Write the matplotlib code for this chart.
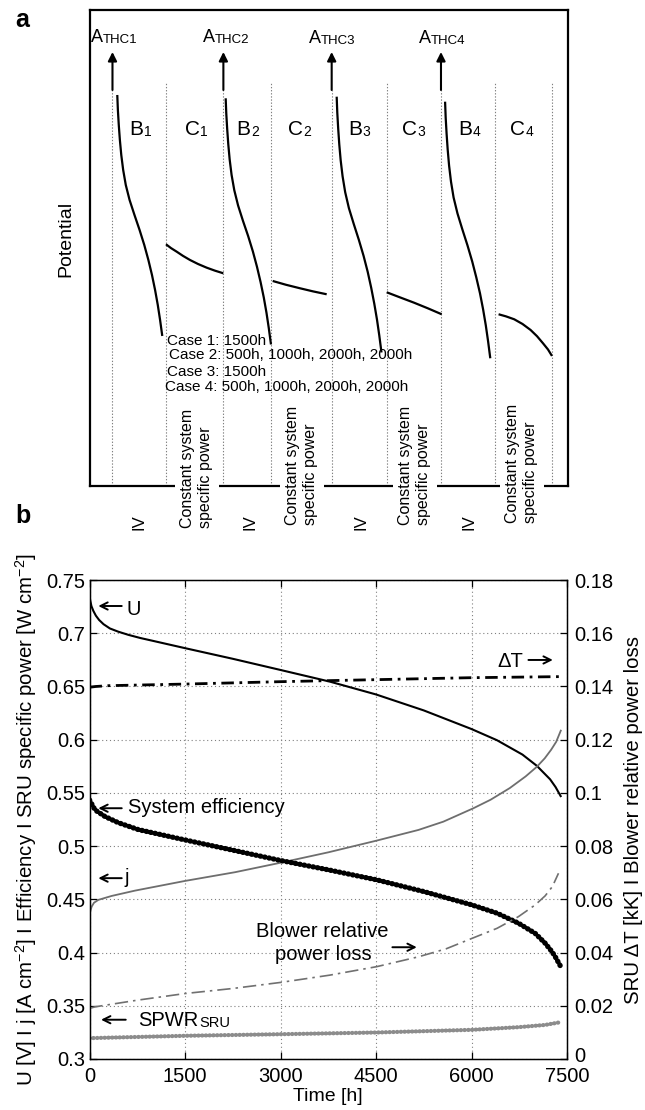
import matplotlib
matplotlib.use('Agg')
import matplotlib.pyplot as plt
from matplotlib.transforms import ScaledTranslation

plt.rcParams['font.family'] = ['Liberation Sans', 'DejaVu Sans']
plt.rcParams['mathtext.fontset'] = 'custom'
plt.rcParams['mathtext.rm'] = 'Liberation Sans'
plt.rcParams['mathtext.it'] = 'Liberation Sans:italic'
plt.rcParams['mathtext.bf'] = 'Liberation Sans:bold'

# ======================= Panel a (schematic, arbitrary units) =======================
seg_bounds = [22.5, 76, 133.4, 180.7, 241.7, 296.7, 351, 405.3, 462]
arrow_x = [22.5, 133.4, 241.7, 351]

B1_x = [27.3, 27.9, 28.8, 29.9, 31.3, 33.2, 35.8, 39.6, 44.5, 49.6, 54.3, 58.4, 62.0, 65.1, 67.8, 70.1, 72.3]
B1_y = [391, 376, 361, 346, 331, 316, 301, 286, 271, 256, 241, 226, 211, 196, 181, 166, 150]
B2_x = [135.7, 136.3, 137.2, 138.3, 139.7, 141.6, 144.3, 148.1, 153.0, 158.2, 162.9, 167.0, 170.6, 173.8,
        176.5, 178.8, 181.0]
B2_y = [387.7, 372.4, 357.1, 341.7, 326.4, 311.1, 295.8, 280.5, 265.1, 249.8, 234.5, 219.2, 203.9, 188.5,
        173.2, 157.9, 141.5]
B3_x = [246.7, 247.3, 248.2, 249.3, 250.7, 252.6, 255.2, 258.9, 263.8, 268.9, 273.6, 277.7, 281.2, 284.3,
        287.0, 289.3, 291.5]
B3_y = [389.3, 373.4, 357.5, 341.5, 325.6, 309.7, 293.8, 277.9, 261.9, 246.0, 230.1, 214.2, 198.3, 182.3,
        166.4, 150.5, 133.5]
B4_x = [355.1, 355.7, 356.6, 357.7, 359.1, 361.0, 363.6, 367.5, 372.4, 377.5, 382.2, 386.3, 390.0, 393.1,
        395.8, 398.1, 400.3]
B4_y = [384.3, 368.3, 352.4, 336.4, 320.4, 304.4, 288.5, 272.5, 256.5, 240.6, 224.6, 208.6, 192.7, 176.7,
        160.7, 144.7, 127.7]

C1_x = [76, 81, 86.7, 93, 100, 108, 116.7, 125, 133.3]
C1_y = [241.7, 237.9, 234.3, 230.1, 226, 222, 218.3, 215.3, 212.7]
C2_x = [182.7, 196, 210, 223, 236.7]
C2_y = [205, 201.2, 197.7, 194.6, 191.7]
C3_x = [296.7, 310, 324, 338, 351.7]
C3_y = [193.7, 188.6, 183.3, 177.6, 171.7]
C4_x = [408.6, 416, 424.2, 432.5, 440.6, 447, 453, 458, 462]
C4_y = [171.7, 169.6, 166.7, 162.0, 156, 149.8, 142.7, 136.5, 130]

A_labels = ["THC1", "THC2", "THC3", "THC4"]
B_labels = ["B", "C", "B", "C", "B", "C", "B", "C"]
B_subs = ["1", "1", "2", "2", "3", "3", "4", "4"]
case_lines = ["Case 1: 1500h",
              "Case 2: 500h, 1000h, 2000h, 2000h",
              "Case 3: 1500h",
              "Case 4: 500h, 1000h, 2000h, 2000h"]
const_label = "Constant system\nspecific power"
iv_label = "IV"

# ======================= Panel b data =======================
t_U = [0, 10, 30, 60, 100, 150, 220, 320, 450, 610, 800, 1000, 1500, 2250, 3000, 3778, 4500, 5250, 6000,
       6400, 6800, 7025, 7234, 7320, 7400]
U = [0.736, 0.731, 0.7255, 0.721, 0.7165, 0.7125, 0.7085, 0.7045, 0.7015, 0.6985, 0.6955, 0.6928, 0.686,
     0.676, 0.6655, 0.6545, 0.6425, 0.6275, 0.610, 0.5995, 0.586, 0.5755, 0.5628, 0.5555, 0.547]

t_dT = [0, 100, 300, 1500, 3000, 3778, 6000, 7400]
dT = [0.1397, 0.1400, 0.1403, 0.1409, 0.1418, 0.1422, 0.1433, 0.1437]

t_j = [0, 15, 34, 70, 139, 348, 715, 1500, 2286, 3009, 3752, 4511, 5166, 5558, 6030, 6300, 6600, 6850,
       7025, 7150, 7250, 7330, 7402]
j = [0.4354, 0.4395, 0.4432, 0.4468, 0.4495, 0.4532, 0.4582, 0.4673, 0.4755, 0.4845, 0.4942, 0.5052,
     0.5152, 0.523, 0.5356, 0.5436, 0.5545, 0.5655, 0.5745, 0.5825, 0.5905, 0.598, 0.6085]

t_eff = [0, 86, 243, 452, 767, 1500, 2250, 3009, 3752, 4511, 5250, 6004, 6400, 6737, 7000, 7156, 7261,
         7313, 7392]
eff = [0.5434, 0.534, 0.5278, 0.522, 0.5155, 0.5058, 0.4962, 0.4864, 0.4777, 0.4683, 0.4573, 0.4448,
       0.437, 0.4276, 0.418, 0.4088, 0.401, 0.3963, 0.3878]

t_sp = [0, 1500, 3009, 4511, 6004, 6737, 7156, 7400]
spwr = [0.3196, 0.3218, 0.3233, 0.3249, 0.3274, 0.3299, 0.332, 0.3346]

t_bl = [0, 86, 750, 1500, 2250, 3009, 3770, 4511, 5166, 5600, 6004, 6400, 6737, 7000, 7156, 7270, 7366]
blower = [0.0190, 0.0196, 0.0221, 0.0246, 0.0265, 0.0288, 0.0315, 0.0347, 0.0384, 0.0414, 0.0453, 0.0491,
          0.0535, 0.0579, 0.0613, 0.0648, 0.0698]

x_ticks = [0, 1500, 3000, 4500, 6000, 7500]
left_ticks = [0.3, 0.35, 0.4, 0.45, 0.5, 0.55, 0.6, 0.65, 0.7, 0.75]
right_ticks = [0, 0.02, 0.04, 0.06, 0.08, 0.1, 0.12, 0.14, 0.16, 0.18]

# ======================= Figure =======================
fig = plt.figure(figsize=(6.45, 11.1), dpi=100)

def sub_text(ax, x, y, main, sub, fs_main, fs_sub, dx=0.3, dy=0.0):
    t = ax.text(x, y, main, fontsize=fs_main, ha='left', va='baseline')
    ax.annotate(sub, xy=(1, 0), xycoords=t, xytext=(dx, dy), textcoords='offset points',
                fontsize=fs_sub, ha='left', va='bottom')
    return t

# ---------- panel a ----------
axa = fig.add_axes([0.1395, 0.5622, 0.7411, 0.4288])
axa.set_xlim(0, 478)
axa.set_ylim(0, 476)
axa.set_xticks([])
axa.set_yticks([])
for s in axa.spines.values():
    s.set_linewidth(1.6)

for xb in seg_bounds:
    top = 396 if xb in arrow_x else 404
    axa.plot([xb, xb], [0, top], color='#808080', lw=0.8, ls=(0, (1.2, 1.6)), zorder=1)
for xa in arrow_x:
    axa.annotate('', xy=(xa, 434), xytext=(xa, 396),
                 arrowprops=dict(arrowstyle='-|>', lw=1.5, color='k', mutation_scale=13,
                                 shrinkA=0, shrinkB=0))

for xs, ys in [(B1_x, B1_y), (B2_x, B2_y), (B3_x, B3_y), (B4_x, B4_y),
               (C1_x, C1_y), (C2_x, C2_y), (C3_x, C3_y), (C4_x, C4_y)]:
    axa.plot(xs, ys, color='k', lw=1.6, solid_capstyle='butt', solid_joinstyle='round')

A_pos = [(0.5, 444.3), (112.8, 444.3), (218.5, 442.7), (328.8, 442.7)]
for (xp, yp), lab in zip(A_pos, A_labels):
    sub_text(axa, xp, yp, "A", lab, 13, 9.5)

BC_pos = [39.3, 95, 146.7, 198.3, 258.3, 311.7, 368.7, 420]
for xp, m, s in zip(BC_pos, B_labels, B_subs):
    sub_text(axa, xp, 351, m, s, 15, 10)

case_pos = [(76.6, 145.3), (78.7, 131), (76.6, 114.3), (75.4, 99.3)]
for (xp, yp), line in zip(case_pos, case_lines):
    axa.text(xp, yp, line, fontsize=11, ha='left', va='center')

const_pos = [(107, -42), (212, -39), (325, -39), (432, -37)]
for xp, yp in const_pos:
    axa.text(xp, yp, const_label, rotation=90, fontsize=11.5, ha='center', va='bottom',
             multialignment='left', clip_on=False, zorder=5, linespacing=1.25,
             bbox=dict(facecolor='white', edgecolor='none', pad=4))
iv_pos = [48.6, 160, 270.8, 379]
for xp in iv_pos:
    axa.text(xp, -36.5, iv_label, rotation=90, fontsize=12, ha='center', va='center',
             clip_on=False)

fig.text(66 / 645, 1 - 239 / 1110, 'Potential', rotation=90, ha='center', va='center', fontsize=14)
fig.text(22.6 / 645, 1 - 26.7 / 1110, 'a', fontsize=18, fontweight='bold', ha='center', va='baseline')
fig.text(22.6 / 645, 1 - 523.3 / 1110, 'b', fontsize=18, fontweight='bold', ha='center', va='baseline')

# ---------- panel b ----------
axb = fig.add_axes([0.1388, 0.04595, 0.7403, 0.4315])
axb.set_xlim(0, 7500)
axb.set_ylim(0.3, 0.75)
axb.set_xticks(x_ticks)
axb.set_xticklabels([str(v) for v in x_ticks])
axb.set_yticks(left_ticks)
axb.set_yticklabels([f"{v:g}" for v in left_ticks])
axb.tick_params(direction='in', length=5, width=0.9, labelsize=14.5, top=True)
axb.tick_params(axis='x', pad=6)
axb.tick_params(axis='y', pad=3)
axb.grid(True, color='#808080', lw=0.8, ls=(0, (1, 2.5)))
for s in axb.spines.values():
    s.set_linewidth(1.0)

ax2 = axb.twinx()
ax2.set_ylim(0, 0.18)
ax2.set_yticks(right_ticks)
ax2.set_yticklabels([f"{v:g}" for v in right_ticks])
ax2.tick_params(direction='in', length=5, width=0.9, labelsize=14.5, pad=5)
zero_lbl = ax2.get_yticklabels()[0]
zero_lbl.set_transform(zero_lbl.get_transform() + ScaledTranslation(0, 3 / 72, fig.dpi_scale_trans))

axb.plot(t_U, U, color='k', lw=1.5)
axb.plot(t_j, j, color='#6e6e6e', lw=1.3)
axb.plot(t_eff, eff, color='k', lw=3.8, ls=(0, (0.1, 0.75)), dash_capstyle='round')
axb.plot(t_sp, spwr, color='#8c8c8c', lw=3.0, ls=(0, (0.1, 0.8)), dash_capstyle='round')
ax2.plot(t_dT, dT, color='k', lw=2.0, ls=(0, (4.5, 2.0, 1.0, 2.0)))
ax2.plot(t_bl, blower, color='#707070', lw=1.2, ls=(0, (8, 3, 1.5, 3)))

axb.set_xlabel('Time [h]', fontsize=14, labelpad=1)
axb.set_ylabel(r'U [V] I j [A cm$^{-2}$] I Efficiency I SRU specific power [W cm$^{-2}$]',
               fontsize=14.7, labelpad=5)
ax2.set_ylabel('SRU \u0394T [kK] I Blower relative power loss', fontsize=14.7, labelpad=8)

arrow_kw = dict(arrowstyle='->', lw=1.4, color='k', mutation_scale=13, shrinkA=0, shrinkB=0)
axb.annotate('', xy=(138, 0.7256), xytext=(506, 0.7256), arrowprops=arrow_kw)
axb.text(584, 0.7171, 'U', fontsize=14.5, ha='left', va='baseline')
axb.annotate('', xy=(138, 0.5356), xytext=(506, 0.5356), arrowprops=arrow_kw)
axb.text(600, 0.531, 'System efficiency', fontsize=14.5, ha='left', va='baseline')
axb.annotate('', xy=(138, 0.4699), xytext=(506, 0.4699), arrowprops=arrow_kw)
axb.text(547, 0.4658, 'j', fontsize=14.5, ha='left', va='baseline')
axb.annotate('', xy=(181, 0.3369), xytext=(569, 0.3369), arrowprops=arrow_kw)
sub_text(axb, 767, 0.3306, 'SPWR', 'SRU', 14.5, 10.5)
axb.annotate('', xy=(7277, 0.6749), xytext=(6894, 0.6749), arrowprops=arrow_kw)
axb.text(6806, 0.6686, '\u0394T', fontsize=14.5, ha='right', va='baseline')
axb.annotate('', xy=(5140, 0.405), xytext=(4757, 0.405), arrowprops=arrow_kw)
axb.text(3663, 0.415, 'Blower relative', fontsize=14.5, ha='center', va='baseline')
axb.text(3666, 0.3932, 'power loss', fontsize=14.5, ha='center', va='baseline')

fig.savefig('out.png', dpi=100)
